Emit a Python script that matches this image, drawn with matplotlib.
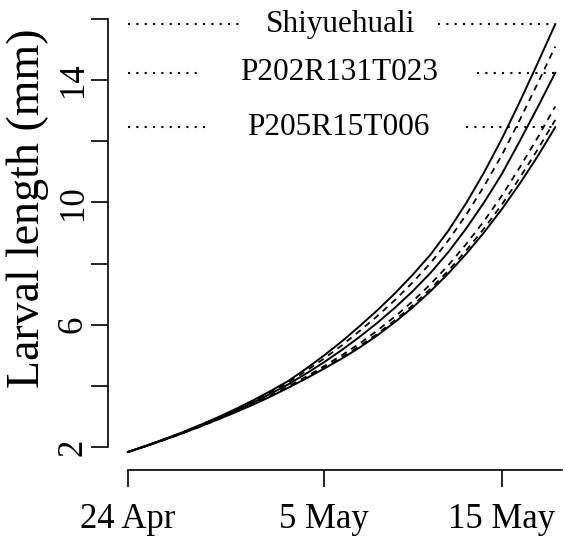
import numpy as np
import matplotlib
matplotlib.use("Agg")
import matplotlib.pyplot as plt
from matplotlib.ticker import FixedLocator, NullFormatter

plt.rcParams["font.family"] = ["Liberation Serif", "DejaVu Serif"]

# days after 24 April
days = np.arange(25)

# observed larval length (mm) per cultivar
obs_shiyuehuali = [1.84, 2.04, 2.25, 2.47, 2.71, 2.96, 3.23, 3.52, 3.83, 4.16, 4.56, 4.99, 5.45,
                   5.95, 6.47, 7.03, 7.64, 8.30, 9.08, 9.98, 10.98, 12.08, 13.28, 14.54, 15.83]
obs_p202 = [1.84, 2.03, 2.24, 2.45, 2.68, 2.92, 3.18, 3.45, 3.74, 4.05, 4.40, 4.77, 5.17,
            5.60, 6.06, 6.56, 7.10, 7.70, 8.38, 9.15, 10.00, 10.93, 12.00, 13.10, 14.24]
obs_p205 = [1.84, 2.03, 2.23, 2.44, 2.66, 2.89, 3.13, 3.38, 3.65, 3.94, 4.24, 4.56, 4.89,
            5.25, 5.65, 6.09, 6.57, 7.10, 7.68, 8.32, 9.02, 9.78, 10.61, 11.50, 12.46]

# simulated larval length (mm)
sim_a = [1.84, 2.04, 2.25, 2.46, 2.70, 2.94, 3.21, 3.49, 3.79, 4.11, 4.49, 4.89, 5.32,
         5.79, 6.28, 6.81, 7.39, 8.02, 8.76, 9.60, 10.53, 11.55, 12.69, 13.88, 15.10]
sim_b = [1.84, 2.03, 2.23, 2.44, 2.67, 2.90, 3.15, 3.41, 3.68, 3.98, 4.30, 4.64, 5.00,
         5.38, 5.81, 6.27, 6.77, 7.33, 7.95, 8.64, 9.39, 10.22, 11.14, 12.11, 13.14]
sim_c = [1.84, 2.03, 2.23, 2.44, 2.66, 2.89, 3.14, 3.39, 3.66, 3.95, 4.26, 4.58, 4.93,
         5.30, 5.70, 6.15, 6.64, 7.18, 7.77, 8.43, 9.15, 9.93, 10.80, 11.72, 12.70]

cultivars = ["Shiyuehuali", "P202R131T023", "P205R15T006"]
x_ticks = [0, 11, 21]
x_labels = ["24 Apr", "5 May", "15 May"]
y_major = [2, 6, 10, 14]
y_minor = [4, 8, 12, 16]

# where the dotted final-length lines break around the names (days)
gap_start = [6.5, 4.1, 4.6]
gap_end = [17.4, 19.6, 19.0]

fig = plt.figure(figsize=(5.65, 5.38), dpi=100)
ax = fig.add_axes([0.1912, 0.1264, 0.8035, 0.8383])

for ys in (obs_shiyuehuali, obs_p202, obs_p205):
    ax.plot(days, ys, color="black", lw=1.4, clip_on=False, zorder=3)
for ys in (sim_a, sim_b, sim_c):
    ax.plot(days, ys, color="black", lw=1.3, linestyle=(0, (3.5, 3)), clip_on=False, zorder=3)

# final length reference lines with cultivar names
for name, ys, g0, g1 in zip(cultivars, (obs_shiyuehuali, obs_p202, obs_p205), gap_start, gap_end):
    final = ys[-1]
    ax.plot([days[0], g0], [final, final], color="black", lw=1.5,
            linestyle=(0, (1, 3)), clip_on=False, zorder=1)
    ax.plot([g1, days[-1]], [final, final], color="black", lw=1.5,
            linestyle=(0, (1, 3)), clip_on=False, zorder=1)
    ax.text((g0 + g1) / 2, final, name, fontsize=22.5, ha="center", va="center", zorder=2)

ax.set_xlim(-1.12, 24.38)
ax.set_ylim(1.25, 16)

for s in ("top", "right"):
    ax.spines[s].set_visible(False)
ax.spines["left"].set_bounds(2, 16)
ax.spines["bottom"].set_bounds(0, 24.38)
ax.spines["left"].set_linewidth(1.2)
ax.spines["bottom"].set_linewidth(1.2)

ax.set_xticks(x_ticks)
ax.set_xticklabels(x_labels, fontsize=25)
ax.yaxis.set_major_locator(FixedLocator(y_major))
ax.yaxis.set_minor_locator(FixedLocator(y_minor))
ax.yaxis.set_minor_formatter(NullFormatter())
ax.set_yticklabels([str(v) for v in y_major], fontsize=25, rotation=90, va="center")
ax.tick_params(axis="x", length=12.5, width=1.2, pad=11)
ax.tick_params(axis="y", which="both", length=12.5, width=1.2, pad=0.5)

ax.set_ylabel("Larval length (mm)", fontsize=33)
ax.yaxis.set_label_coords(-0.13, 0.58)

fig.savefig("out.png", dpi=100)
